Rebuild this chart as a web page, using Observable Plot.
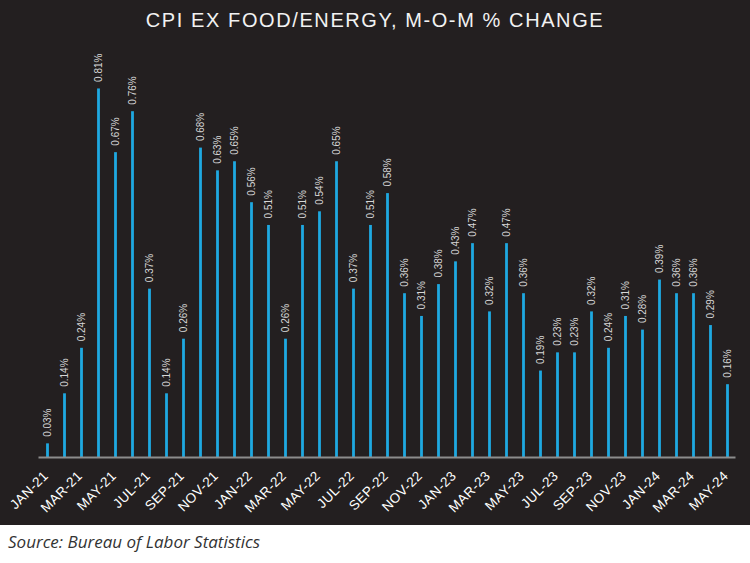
<!DOCTYPE html>
<html>
<head>
<meta charset="utf-8">
<script src="https://cdn.jsdelivr.net/npm/d3@7"></script>
<script src="https://cdn.jsdelivr.net/npm/@observablehq/plot@0.6"></script>
<style>
  html, body { margin: 0; padding: 0; background: #ffffff; }
  #panel { width: 750px; height: 525px; background: #231f20; position: relative; }
  #title { height: 40px; line-height: 40px; text-align: center; color: #f2f2f2;
    font-family: "Liberation Sans", Arial, sans-serif; font-size: 20px; letter-spacing: 1.6px; }
  #caption { font-family: "Open Sans", sans-serif; font-style: italic; font-size: 17px; color: #333;
    padding-left: 8px; line-height: 34px; }
  #chart svg g[aria-label="x-axis tick label"] text { letter-spacing: 0.4px; }
</style>
</head>
<body>
<div id="panel"><div id="title">CPI EX FOOD/ENERGY, M-O-M % CHANGE</div><div id="chart"></div></div>
<div id="caption">Source: Bureau of Labor Statistics</div>
<script>
const months = ["JAN-21","FEB-21","MAR-21","APR-21","MAY-21","JUN-21","JUL-21","AUG-21","SEP-21","OCT-21","NOV-21","DEC-21",
  "JAN-22","FEB-22","MAR-22","APR-22","MAY-22","JUN-22","JUL-22","AUG-22","SEP-22","OCT-22","NOV-22","DEC-22",
  "JAN-23","FEB-23","MAR-23","APR-23","MAY-23","JUN-23","JUL-23","AUG-23","SEP-23","OCT-23","NOV-23","DEC-23",
  "JAN-24","FEB-24","MAR-24","APR-24","MAY-24"];
const values = [0.03,0.14,0.24,0.81,0.67,0.76,0.37,0.14,0.26,0.68,0.63,0.65,
  0.56,0.51,0.26,0.51,0.54,0.65,0.37,0.51,0.58,0.36,0.31,0.38,
  0.43,0.47,0.32,0.47,0.36,0.19,0.23,0.23,0.32,0.24,0.31,0.28,
  0.39,0.36,0.36,0.29,0.16];
const tickLabels = months.filter((m, i) => i % 2 === 0);

const data = months.map((m, i) => ({month: m, value: values[i]}));

const chart = Plot.plot({
  width: 750,
  height: 485,
  marginTop: 7.5,
  marginBottom: 68,
  marginLeft: 38.5,
  marginRight: 14.5,
  style: {background: "transparent", color: "#ffffff", fontFamily: "'Liberation Sans', Arial, sans-serif"},
  x: {domain: months, padding: 0, axis: null},
  y: {domain: [0, 0.9], axis: null},
  marks: [
    Plot.barY(data, {x: "month", y: "value", fill: "#1fa8e0", insetLeft: 7.1, insetRight: 7.1}),
    Plot.ruleY([0], {stroke: "#8c8c8c", strokeWidth: 2}),
    Plot.text(data, {x: "month", y: "value", text: d => d.value.toFixed(2) + "%", rotate: -90,
      textAnchor: "start", dy: -7, fill: "#d6d6d6", fontSize: 10}),
    Plot.axisX({ticks: tickLabels, tickSize: 0, tickRotate: -45, tickPadding: 16, dx: -2, fontSize: 13.5,
      fill: "#ffffff", label: null, textAnchor: "end"})
  ]
});
document.getElementById("chart").appendChild(chart);
</script>
</body>
</html>
